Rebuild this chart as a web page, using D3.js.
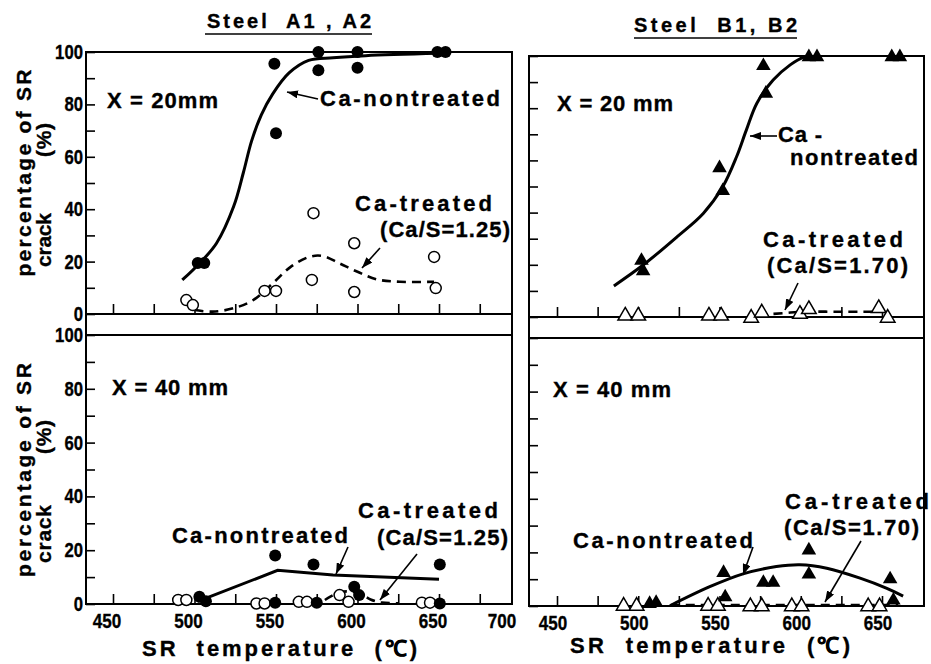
<!DOCTYPE html>
<html lang="en">
<head>
<meta charset="UTF-8">
<title>Percentage of SR crack vs SR temperature</title>
<style>
  body { margin: 0; background: #fff; }
  svg { display: block; font-family: 'Liberation Sans', Arial, sans-serif; font-weight: bold; }
  svg text { stroke: #000; stroke-width: 0.35px; }
</style>
</head>
<body>
<svg width="931" height="664"></svg>
<script src="https://d3js.org/d3.v7.min.js"></script>
<script>
// values: [SR temperature (deg C), percentage of SR crack (%)]
const pctTicks = d3.range(0, 101, 10);
const pctLabels = [0, 20, 40, 60, 80, 100];
const tempTicks = d3.range(450, 701, 25);
const tempLabelsA = [450, 500, 550, 600, 650, 700];
const tempLabelsB = [450, 500, 550, 600, 650];

// Steel A1, A2 -- X = 20 mm
const a20Non = [[502,19.5],[506,19.5],[549,95.5],[550,69],[576,100],[576,93],[600,100],[600,94],[649,100],[654,100]];
const a20Tr = [[495,5.3],[499,3.4],[543,8.8],[550,8.8],[573,38.5],[572,13],[598,27],[598,8.4],[647,21.8],[648,9.9]];
const a20NonFit = [[492.5,13],[503,19.3],[513.5,27],[524,41],[530,54],[535,66],[541,76],[548,84],[558,92],[570,96.8],[585,97.8],[605,98.6],[650,99.5]];
const a20TrFit = [[500,1.5],[511,0.9],[524,2.2],[536,5.3],[548,11.7],[559,18],[571,21.9],[579,22.1],[589,19.3],[600,16.1],[612,13.2],[626,12.3],[647,12.3]];

// Steel B1, B2 -- X = 20 mm
const b20Non = [[502,22],[503,18],[550,57.5],[552,48.7],[577,96.6],[578.5,86],[605,100],[610,100],[656,100],[661,100]];
const b20Tr = [[492,0.8],[500,0.8],[543.5,0.8],[551,0.8],[569.5,0],[576,2],[599.5,1.5],[605,3.3],[648,3.7],[653.5,0]];
const b20NonFit = [[485,11.9],[503,19.9],[524,30.8],[540,39.7],[552,49.9],[560.5,61.4],[566.5,71.6],[573,81.9],[583,90.8],[593.5,96.6],[601.5,99.5],[606,100]];
const b20TrFit = [[574,0.8],[590,1.5],[600,2],[625,2],[647,2]];

// Steel A1, A2 -- X = 40 mm
const a40Non = [[503,2.7],[507,1],[549.5,18],[549.5,0.5],[573,14.7],[575,0.5],[598,6.4],[601,3.3],[650.5,14.7],[650.5,0.2]];
const a40Tr = [[490,1.5],[495,1.5],[538,0.2],[543,0.2],[564,0.8],[569,0.8],[589,3.3],[594.5,0.8],[639.5,0.5],[644.5,0.5]];
const a40NonFit = [[502,1],[551,12.5],[585,10.8],[650,9.2]];
const a40TrFit = [[580,1.5],[590,4.5],[601,4],[608,1.7],[615,0.5],[625,0.3]];

// Steel B1, B2 -- X = 40 mm
const b40Non = [[507,1.2],[511,1.6],[552.5,12.8],[553.5,3.7],[577,9.1],[583,9.1],[605,21.2],[605,12.2],[655,10.4],[657,2.5]];
const b40Tr = [[491,0.4],[499,0.4],[543,0.4],[549,0.4],[569,0.2],[576,0.2],[594.5,0.2],[600.5,0.2],[641.5,0.2],[648.5,0.2]];
const b40NonFit = [[519.5,0.1],[544,7.2],[564.5,12],[585,14.7],[599.5,15.4],[616,14.1],[636.5,10.4],[653,6.6],[663,3.7]];
const b40TrFit = [[520,0.4],[660,0.4]];

const svg = d3.select('svg');

// arrow head for the callouts
svg.append('defs').append('marker')
    .attr('id', 'head')
    .attr('markerUnits', 'userSpaceOnUse')
    .attr('markerWidth', 11).attr('markerHeight', 8)
    .attr('refX', 11).attr('refY', 4)
    .attr('orient', 'auto')
  .append('path')
    .attr('d', 'M0,0 L11,4 L0,8 Z')
    .attr('fill', '#000');

// two columns, each with two stacked panels
const columns = [
    { key: 'A', x0: 86, x1: 512, xr: [113, 439], labels: tempLabelsA, labelDx: -6, mark: 'circle',
      top: { yr: [314, 52], non: a20Non, tr: a20Tr, nonFit: a20NonFit, trFit: a20TrFit, curve: d3.curveCatmullRom },
      bot: { yr: [604, 335], non: a40Non, tr: a40Tr, nonFit: a40NonFit, trFit: a40TrFit, curve: d3.curveLinear, trCurve: d3.curveCatmullRom } },
    { key: 'B', x0: 529, x1: 924, xr: [557, 882], labels: tempLabelsB, labelDx: -4, mark: 'triangle',
      top: { yr: [317, 56], non: b20Non, tr: b20Tr, nonFit: b20NonFit, trFit: b20TrFit, curve: d3.curveCatmullRom },
      bot: { yr: [606, 338], non: b40Non, tr: b40Tr, nonFit: b40NonFit, trFit: b40TrFit, curve: d3.curveCatmullRom } }
];

const tri = d3.symbol(d3.symbolTriangle, 92);

columns.forEach(col => {
    const x = d3.scaleLinear().domain([450, 650]).range(col.xr);
    const g = svg.append('g');

    // frame: outer box plus the two horizontal lines between panels
    g.append('rect')
        .attr('x', col.x0).attr('y', col.top.yr[1])
        .attr('width', col.x1 - col.x0).attr('height', col.bot.yr[0] - col.top.yr[1])
        .attr('fill', 'none').attr('stroke', '#000').attr('stroke-width', 2);
    [col.top.yr[0], col.bot.yr[1]].forEach(yy => {
        g.append('line').attr('x1', col.x0).attr('x2', col.x1).attr('y1', yy).attr('y2', yy)
            .attr('stroke', '#000').attr('stroke-width', 2);
    });

    [col.top, col.bot].forEach(p => {
        const y = d3.scaleLinear().domain([0, 100]).range(p.yr);

        // inward ticks
        const ya = g.append('g').attr('transform', `translate(${col.x0},0)`)
            .call(d3.axisLeft(y).tickValues(pctTicks).tickSize(-9).tickFormat(''));
        const xa = g.append('g').attr('transform', `translate(0,${p.yr[0]})`)
            .call(d3.axisTop(x).tickValues(tempTicks.filter(t => x(t) < col.x1 - 4)).tickSize(10).tickFormat(''));
        [ya, xa].forEach(a => {
            a.select('.domain').remove();
            a.selectAll('line').attr('stroke-width', 1.6);
        });

        // percentage labels on the left column only
        if (col.key === 'A') {
            g.selectAll(null).data(pctLabels).join('text')
                .attr('x', col.x0 - 3).attr('y', d => y(d) + 7)
                .attr('text-anchor', 'end').attr('font-size', 21)
                .attr('textLength', d => String(d).length * 9.3)
                .attr('lengthAdjust', 'spacingAndGlyphs')
                .text(d => d);
        }

        // fitted lines
        const line = d3.line().x(d => x(d[0])).y(d => y(d[1]));
        g.append('path').datum(p.nonFit)
            .attr('d', line.curve(p.curve))
            .attr('fill', 'none').attr('stroke', '#000').attr('stroke-width', 3);
        g.append('path').datum(p.trFit)
            .attr('d', line.curve(p.trCurve || p.curve))
            .attr('fill', 'none').attr('stroke', '#000').attr('stroke-width', 2.6)
            .attr('stroke-dasharray', '9,6');

        // markers: filled = Ca-nontreated, open = Ca-treated
        if (col.mark === 'circle') {
            g.selectAll(null).data(p.tr).join('circle')
                .attr('cx', d => x(d[0])).attr('cy', d => y(d[1])).attr('r', 5.5)
                .attr('fill', '#fff').attr('stroke', '#000').attr('stroke-width', 1.5);
            g.selectAll(null).data(p.non).join('circle')
                .attr('cx', d => x(d[0])).attr('cy', d => y(d[1])).attr('r', 6)
                .attr('fill', '#000');
        } else {
            g.selectAll(null).data(p.tr).join('path')
                .attr('transform', d => `translate(${x(d[0])},${y(d[1]) + 1})`)
                .attr('d', tri)
                .attr('fill', '#fff').attr('stroke', '#000').attr('stroke-width', 1.5);
            g.selectAll(null).data(p.non).join('path')
                .attr('transform', d => `translate(${x(d[0])},${y(d[1]) + 1})`)
                .attr('d', tri)
                .attr('fill', '#000');
        }
    });

    // temperature labels under the lower panel
    g.selectAll(null).data(col.labels).join('text')
        .attr('x', d => Math.min(x(d), col.x1 - 4) + col.labelDx)
        .attr('y', col.bot.yr[0] + 24)
        .attr('text-anchor', 'middle').attr('font-size', 21)
        .attr('textLength', 28.5).attr('lengthAdjust', 'spacingAndGlyphs')
        .text(d => d);
});

// text: [string, left x, right x, baseline y, font size]
const texts = [
    ['Steel  A1 , A2', 207, 371, 28, 20],
    ['Steel  B1, B2', 634, 797, 32, 20],
    ['X = 20mm', 107, 218, 108, 22],
    ['Ca-nontreated', 320, 500, 106, 22],
    ['Ca-treated', 355, 492, 211, 22],
    ['(Ca/S=1.25)', 380, 510, 237, 22],
    ['X = 20 mm', 557, 673, 111, 22],
    ['Ca -', 778, 822, 142, 22],
    ['nontreated', 790, 918, 165, 22],
    ['Ca-treated', 763, 903, 247, 22],
    ['(Ca/S=1.70)', 767, 908, 273, 22],
    ['X = 40 mm', 112, 228, 395, 22],
    ['Ca-nontreated', 172, 348, 543, 22],
    ['Ca-treated', 358, 498, 518, 22],
    ['(Ca/S=1.25)', 377, 508, 545, 22],
    ['X = 40 mm', 553, 671, 397, 22],
    ['Ca-nontreated', 573, 753, 548, 22],
    ['Ca-treated', 785, 929, 509, 22],
    ['(Ca/S=1.70)', 784, 919, 535, 22],
    ['SR  temperature  (\u2103)', 142, 417, 656, 22],
    ['SR  temperature  (\u2103)', 570, 850, 653, 22]
];
svg.selectAll(null).data(texts).join('text')
    .attr('x', d => d[1]).attr('y', d => d[3])
    .attr('font-size', d => d[4])
    .attr('textLength', d => d[2] - d[1]).attr('lengthAdjust', 'spacing')
    .style('white-space', 'pre')
    .text(d => d[0]);

// title underlines
[[205, 372, 34], [634, 797, 38]].forEach(u => {
    svg.append('line').attr('x1', u[0]).attr('x2', u[1]).attr('y1', u[2]).attr('y2', u[2])
        .attr('stroke', '#000').attr('stroke-width', 1.6);
});

// rotated y titles: [string, baseline x, centre y, length]
const yTitles = [
    ['percentage of SR', 31, 173, 207],
    ['(%)', 51, 140, 34],
    ['crack', 51, 240, 54],
    ['percentage of SR', 31, 470, 214],
    ['(%)', 51, 437, 34],
    ['crack', 51, 534, 58]
];
svg.selectAll(null).data(yTitles).join('text')
    .attr('transform', d => `translate(${d[1]},${d[2]}) rotate(-90)`)
    .attr('text-anchor', 'middle').attr('font-size', 21)
    .attr('textLength', d => d[3]).attr('lengthAdjust', 'spacing')
    .text(d => d[0]);

// callout arrows: tail x, tail y, head x, head y
const arrows = [
    [318, 99, 287, 92], [380, 248, 362, 268],
    [777, 136, 750, 136], [798, 283, 785, 310],
    [348, 547, 336, 574], [417, 554, 380, 600],
    [753, 547, 743, 575], [861, 541, 825, 602]
];
svg.selectAll(null).data(arrows).join('line')
    .attr('x1', d => d[0]).attr('y1', d => d[1])
    .attr('x2', d => d[2]).attr('y2', d => d[3])
    .attr('stroke', '#000').attr('stroke-width', 1.6)
    .attr('marker-end', 'url(#head)');
</script>
</body>
</html>
